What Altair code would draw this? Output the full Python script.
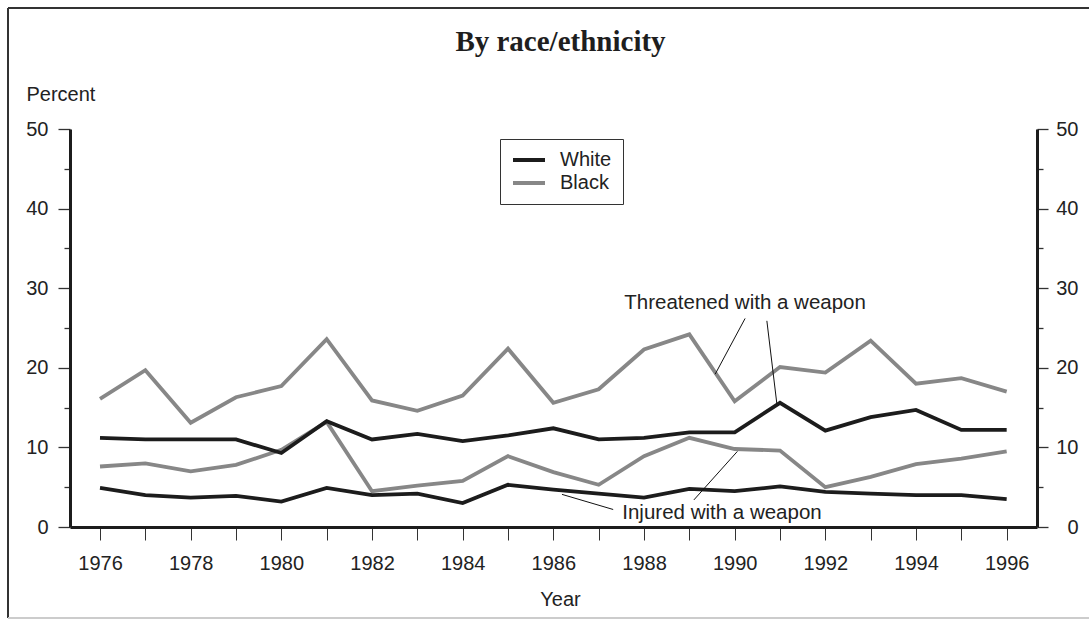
import altair as alt
import pandas as pd

# ---- data ----
years = list(range(1976, 1997))
white_threatened = [11.2, 11.0, 11.0, 11.0, 9.3, 13.3, 11.0, 11.7, 10.8, 11.5, 12.4,
                    11.0, 11.2, 11.9, 11.9, 15.6, 12.1, 13.8, 14.7, 12.2, 12.2]
black_threatened = [16.1, 19.7, 13.1, 16.3, 17.7, 23.6, 15.9, 14.6, 16.5, 22.4, 15.6,
                    17.3, 22.3, 24.2, 15.8, 20.1, 19.4, 23.4, 18.0, 18.7, 17.0]
white_injured = [4.9, 4.0, 3.7, 3.9, 3.2, 4.9, 4.0, 4.2, 3.0, 5.3, 4.7,
                 4.2, 3.7, 4.8, 4.5, 5.1, 4.4, 4.2, 4.0, 4.0, 3.5]
black_injured = [7.6, 8.0, 7.0, 7.8, 9.7, 13.2, 4.5, 5.2, 5.8, 8.9, 6.9,
                 5.3, 8.9, 11.2, 9.8, 9.6, 5.0, 6.3, 7.9, 8.6, 9.5]

groups = ["White", "Black"]
group_colors = ["#1c1c1c", "#878787"]

label_text = ["Threatened with a weapon", "Injured with a weapon"]
label_year = [1990.23, 1989.72]
label_pct = [27.35, 1.0]

leader_year = [1990.23, 1990.71, 1987.32, 1989.10]
leader_pct = [26.2, 25.9, 2.2, 3.4]
leader_year2 = [1989.57, 1990.93, 1986.19, 1990.06]
leader_pct2 = [19.2, 15.5, 4.1, 9.5]

y_values = [0, 5, 10, 15, 20, 25, 30, 35, 40, 45, 50]

rows = []
for grp, meas, vals in [("Black", "Threatened", black_threatened),
                        ("Black", "Injured", black_injured),
                        ("White", "Threatened", white_threatened),
                        ("White", "Injured", white_injured)]:
    for yr, v in zip(years, vals):
        rows.append({"year": yr, "group": grp, "measure": meas, "value": v})
df = pd.DataFrame(rows)

labels_df = pd.DataFrame({"text": label_text, "year": label_year, "pct": label_pct})
leaders_df = pd.DataFrame({"x1": leader_year, "y1": leader_pct,
                           "x2": leader_year2, "y2": leader_pct2})

FONT = "Liberation Sans"
TXT = "#222222"

x_scale = alt.Scale(domain=[1975.338, 1996.669], nice=False, zero=False)
y_scale = alt.Scale(domain=[0, 50], nice=False, zero=True)

x_axis = alt.Axis(
    values=years, format="d",
    labelExpr="datum.value % 2 === 0 ? datum.label : ''",
    labelFont=FONT, labelFontSize=20, labelColor=TXT, labelPadding=13,
    labelFlush=False, labelOverlap=False,
    tickSize=13, tickWidth=1, tickColor="#333333",
    domainWidth=3, domainColor="#1c1c1c", grid=False,
    title="Year", titleFont=FONT, titleFontSize=20, titleFontWeight="normal",
    titleColor=TXT, titleX=490, titleY=78, titleAlign="center",
    titleBaseline="alphabetic",
)

left_axis = alt.Axis(
    values=y_values, format="d",
    labelExpr="datum.value % 10 === 0 ? datum.label : ''",
    labelFont=FONT, labelFontSize=20, labelColor=TXT, labelPadding=10,
    tickSize={"condition": {"test": "datum.value % 10 === 0", "value": 12}, "value": 6},
    tickWidth=1.3, tickColor="#333333",
    domainWidth=3, domainColor="#1c1c1c", grid=False,
    title="Percent", titleFont=FONT, titleFontSize=20, titleFontWeight="normal",
    titleColor=TXT, titleAngle=0, titleAlign="left", titleBaseline="alphabetic",
    titleX=-44, titleY=-29,
)

right_axis = alt.Axis(
    orient="right", values=y_values, format="d",
    labelExpr="datum.value % 10 === 0 ? datum.label : ''",
    labelFont=FONT, labelFontSize=20, labelColor=TXT, labelPadding=30,
    labelAlign="right",
    tickSize={"condition": {"test": "datum.value % 10 === 0", "value": 11}, "value": 6},
    tickWidth=1.3, tickColor="#333333",
    domainWidth=3, domainColor="#1c1c1c", grid=False, title="",
)

lines = alt.Chart(df).mark_line(strokeWidth=3.8).encode(
    x=alt.X("year:Q", scale=x_scale, axis=x_axis),
    y=alt.Y("value:Q", scale=y_scale, axis=left_axis),
    color=alt.Color(
        "group:N",
        scale=alt.Scale(domain=groups, range=group_colors),
        legend=alt.Legend(
            title=None, orient="none", legendX=430, legendY=10,
            strokeColor="#333333", fillColor="white",
            padding=11, symbolType="stroke", symbolSize=1024,
            symbolStrokeWidth=4, labelFont=FONT, labelFontSize=20,
            labelColor=TXT, labelOffset=13, clipHeight=20, rowPadding=3,
        ),
    ),
    detail="measure:N",
)

texts = alt.Chart(labels_df).mark_text(
    font=FONT, fontSize=20.5, color=TXT, align="center", baseline="alphabetic"
).encode(
    x=alt.X("year:Q", scale=x_scale, axis=None),
    y=alt.Y("pct:Q", scale=y_scale, axis=right_axis),
    text="text:N",
)

leaders = alt.Chart(leaders_df).mark_rule(color="#111111", strokeWidth=1).encode(
    x=alt.X("x1:Q", scale=x_scale, axis=None),
    y=alt.Y("y1:Q", scale=y_scale, axis=None),
    x2="x2:Q",
    y2="y2:Q",
)

frame_left = alt.Chart(pd.DataFrame({"e": [1]})).mark_rule(
    color="#333333", strokeWidth=2).encode(
    x=alt.value(-62), y=alt.value(-121), y2=alt.value(489))
frame_top = alt.Chart(pd.DataFrame({"e": [1]})).mark_rule(
    color="#333333", strokeWidth=2).encode(
    x=alt.value(-62), x2=alt.value(1019), y=alt.value(-121))
frame_bottom = alt.Chart(pd.DataFrame({"e": [1]})).mark_rule(
    color="#cccccc", strokeWidth=2).encode(
    x=alt.value(-62), x2=alt.value(1019), y=alt.value(489))

chart = alt.layer(
    lines, texts, leaders, frame_left, frame_top, frame_bottom
).resolve_axis(x="independent", y="independent").properties(
    width=967, height=398,
    autosize=alt.AutoSizeParams(type="none"),
    padding={"left": 70, "top": 129, "right": 52, "bottom": 93},
    background="white",
    title=alt.TitleParams(
        "By race/ethnicity", font="Liberation Serif", fontSize=29,
        fontWeight="bold", color="#1e1e1e", anchor="middle", dx=7,
        baseline="alphabetic", offset=0, dy=73,
    ),
).configure_view(strokeWidth=0).configure_legend(strokeWidth=1)

chart.save("out.html", embed_options={"renderer": "svg", "actions": False})
